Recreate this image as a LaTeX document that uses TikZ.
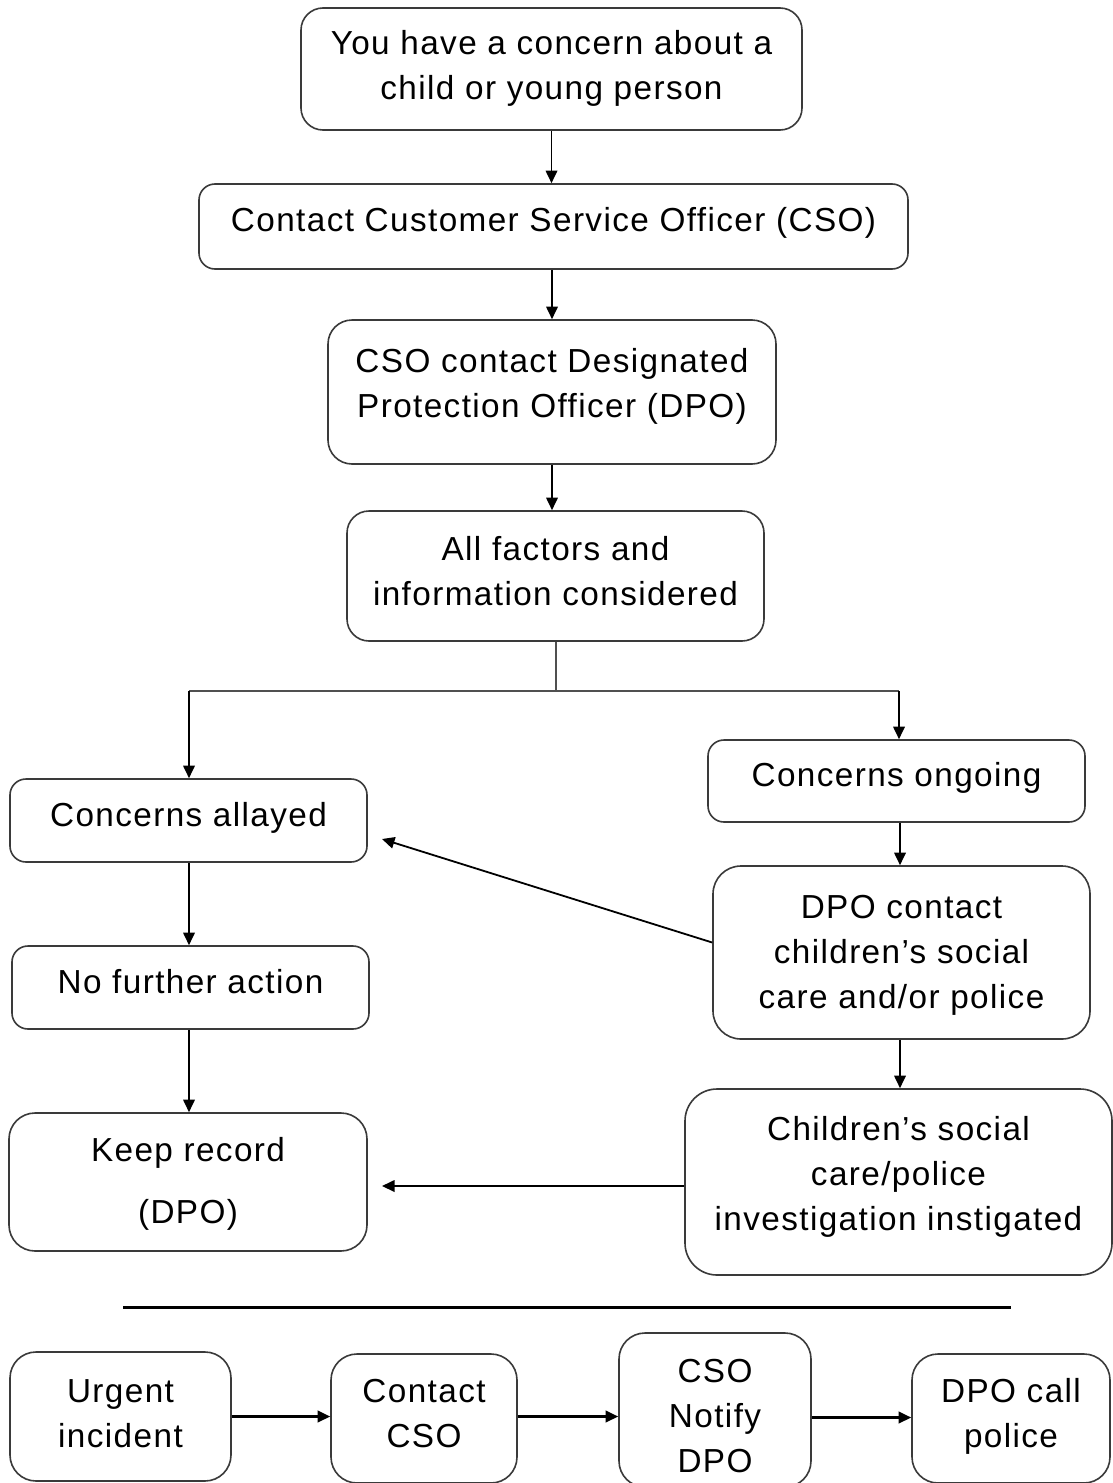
\documentclass[tikz,border=0pt]{standalone}
\usepackage{fontspec}
\newfontfamily\diafont[LetterSpace=4.2]{Liberation Sans}
\usetikzlibrary{arrows.meta}
\definecolor{boxline}{HTML}{3A3A3A}
\definecolor{branchline}{HTML}{505050}
\newcommand\fs{\rule{0pt}{32pt}}
\tikzset{
  box/.style={draw=boxline, line width=1.6pt, rounded corners=#1, fill=white, inner sep=0pt},
  box/.default=18pt,
  txt/.style={anchor=north, align=center, inner sep=0pt, font=\diafont\fontsize{33.3}{45}\selectfont},
  arr/.style={draw=black, line width=1.8pt, -{Triangle[length=12.5pt,width=11.5pt]}},
  branch/.style={draw=branchline, line width=2pt}
}
\begin{document}
\begin{tikzpicture}[x=1pt,y=-1pt]
\useasboundingbox (0,0) rectangle (1113,1483);
\fill[white] (0,0) rectangle (1113,1483);
% boxes
\node[box=22pt, minimum width=501pt, minimum height=122pt] (top) at (551.5,69) {};
\node[txt] (topt) at (551.5,22) {\fs You have a concern about a\\child or young person};
\node[box=16pt, minimum width=709pt, minimum height=85pt] (cso) at (553.5,226.5) {};
\node[txt] (csot) at (553.5,199) {\fs Contact Customer Service Officer (CSO)};
\node[box=24pt, minimum width=448pt, minimum height=144pt] (dpo) at (552,392) {};
\node[txt] (dpot) at (552,340.5) {\fs CSO contact Designated\\Protection Officer (DPO)};
\node[box=22pt, minimum width=417pt, minimum height=130pt] (fac) at (555.5,576) {};
\node[txt] (fact) at (555.5,528.5) {\fs All factors and\\information considered};
\node[box=16pt, minimum width=357pt, minimum height=83pt] (all) at (188.5,820.5) {};
\node[txt] (allt) at (188.5,794.5) {\fs Concerns allayed};
\node[box=16pt, minimum width=377pt, minimum height=82pt] (ong) at (896.5,781) {};
\node[txt] (ongt) at (896.5,754.5) {\fs Concerns ongoing};
\node[box=16pt, minimum width=357pt, minimum height=83pt] (nfa) at (190.5,987.5) {};
\node[txt] (nfat) at (190.5,961.5) {\fs No further action};
\node[box=28pt, minimum width=377pt, minimum height=173pt] (dpoc) at (901.5,952.5) {};
\node[txt] (dpoct) at (901.5,886.5) {\fs DPO contact\\children’s social\\care and/or police};
\node[box=26pt, minimum width=358pt, minimum height=138pt] (keep) at (188,1182) {};
\node[txt] (keept) at (188,1129) {\fs Keep record\\[17pt](DPO)};
\node[box=32pt, minimum width=427pt, minimum height=186pt] (child) at (898.5,1182) {};
\node[txt] (childt) at (898.5,1108) {\fs Children’s social\\care/police\\investigation instigated};
% separator
\coordinate (sepl) at (123,1307.5);
\coordinate (sepr) at (1011,1307.5);
\draw[black, line width=3pt] (sepl) -- (sepr);
% bottom row
\node[box=26pt, minimum width=221pt, minimum height=129pt] (urg) at (120.5,1416.5) {};
\node[txt] (urgt) at (120.5,1370) {\fs Urgent\\incident};
\node[box=26pt, minimum width=186pt, minimum height=129pt] (ccso) at (424,1418.5) {};
\node[txt] (ccsot) at (424,1370) {\fs Contact\\CSO};
\node[box=26pt, minimum width=192pt, minimum height=154pt] (notify) at (715,1410) {};
\node[txt] (notifyt) at (715,1350) {\fs CSO\\Notify\\DPO};
\node[box=26pt, minimum width=198pt, minimum height=129pt] (police) at (1011,1418.5) {};
\node[txt] (policet) at (1011,1370) {\fs DPO call\\police};
% connectors
\draw[arr] (top.south) -- (top.south |- cso.north);
\draw[arr] (cso.south -| dpo.north) -- (dpo.north);
\draw[arr] (dpo.south) -- (dpo.south |- fac.north);
\coordinate (bmid) at (555.5,691);
\coordinate (bl) at (189,691);
\coordinate (br) at (899,691);
\draw[branch] (fac.south) -- (bmid);
\draw[branch] (bl) -- (br);
\draw[arr] (bl) -- (bl |- all.north);
\draw[arr] (br) -- (br |- ong.north);
\draw[arr] (all.south -| bl) -- (bl |- nfa.north);
\draw[arr] (nfa.south -| bl) -- (bl |- keep.north);
\draw[arr] (ong.south -| 900,0) -- (dpoc.north -| 900,0);
\draw[arr] (dpoc.south -| 900,0) -- (child.north -| 900,0);
\coordinate (allin) at (382,839);
\draw[arr] ([yshift=10pt]dpoc.west) -- (allin);
\coordinate (keepin) at (382,1186);
\draw[arr] (child.west |- keepin) -- (keepin);
\draw[arr, line width=2.2pt] (urg.east |- 0,1416.5) -- (ccso.west |- 0,1416.5);
\draw[arr, line width=2.2pt] (ccso.east |- 0,1416.5) -- (notify.west |- 0,1416.5);
\draw[arr, line width=2.2pt] (notify.east |- 0,1417.5) -- (police.west |- 0,1417.5);
\end{tikzpicture}
\end{document}
